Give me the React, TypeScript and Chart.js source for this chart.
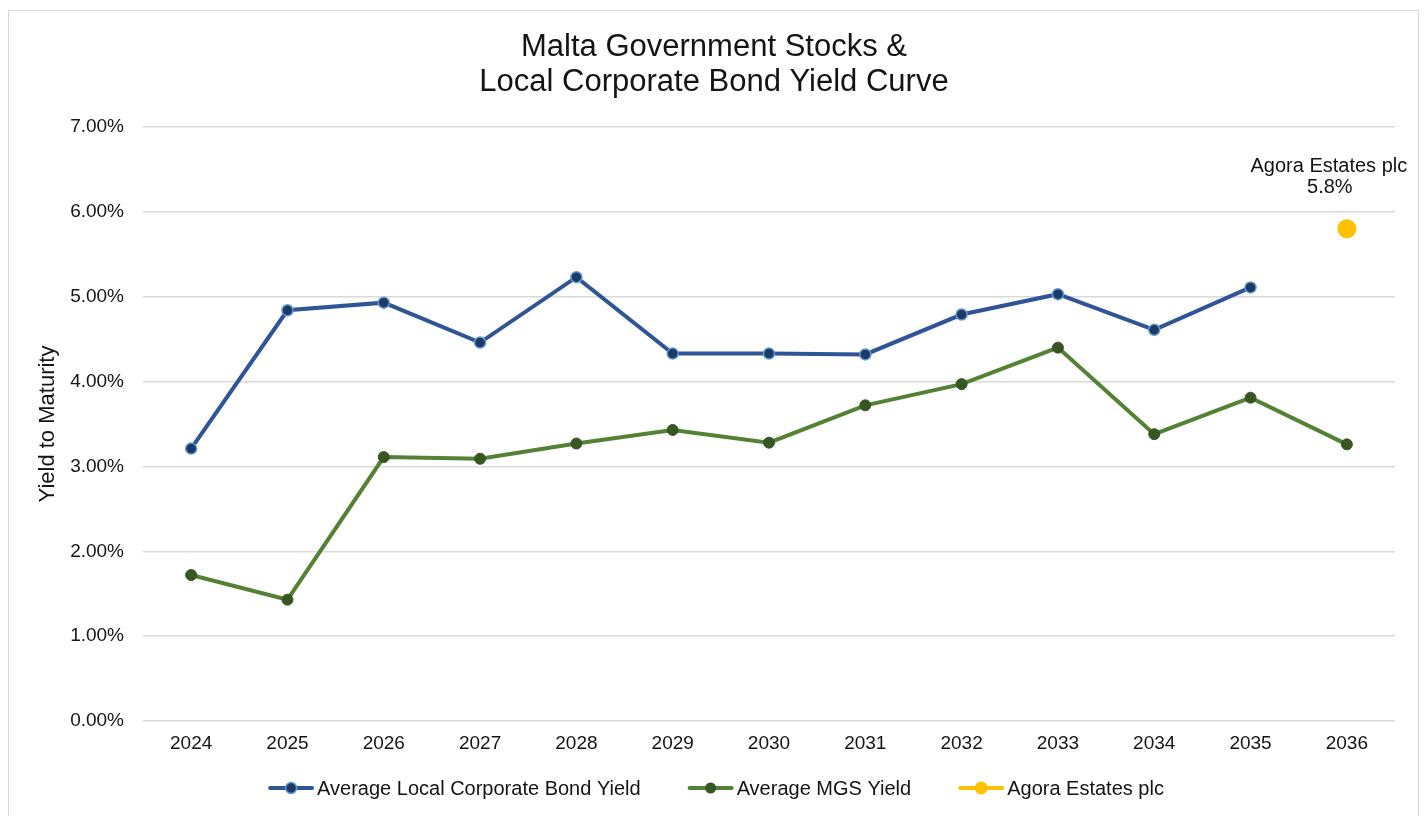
import React, { useEffect, useRef } from "react";
import { Chart, registerables } from "chart.js";

Chart.register(...registerables);

const years = ["2024", "2025", "2026", "2027", "2028", "2029", "2030", "2031", "2032", "2033", "2034", "2035", "2036"];
const corporateYield: (number | null)[] = [3.21, 4.84, 4.93, 4.46, 5.23, 4.33, 4.33, 4.32, 4.79, 5.03, 4.61, 5.11, null];
const mgsYield: (number | null)[] = [1.72, 1.43, 3.11, 3.09, 3.27, 3.43, 3.28, 3.72, 3.97, 4.4, 3.38, 3.81, 3.26];
const agoraYield: (number | null)[] = [null, null, null, null, null, null, null, null, null, null, null, null, 5.8];

const seriesNames = ["Average Local Corporate Bond Yield", "Average MGS Yield", "Agora Estates plc"];
const titleLines = ["Malta Government Stocks &", "Local Corporate Bond Yield Curve"];
const yAxisTitle = "Yield to Maturity";
const agoraLabel = ["Agora Estates plc", "5.8%"];
const yMin = 0;
const yMax = 7;
const yStep = 1;

const FONT = "'Liberation Sans', Arial, sans-serif";
const TEXT = "#141414";

const overlayPlugin = {
  id: "overlay",
  afterDraw(chart: any) {
    const ctx = chart.ctx as CanvasRenderingContext2D;
    const area = chart.chartArea;
    ctx.save();
    // Title
    ctx.fillStyle = TEXT;
    ctx.font = `31px ${FONT}`;
    ctx.textAlign = "center";
    ctx.textBaseline = "alphabetic";
    const cx = 714;
    ctx.fillText(titleLines[0], cx, 56);
    ctx.fillText(titleLines[1], cx, 91);

    // Y axis title
    ctx.save();
    ctx.font = `22px ${FONT}`;
    ctx.translate(48, (area.top + area.bottom) / 2);
    ctx.rotate(-Math.PI / 2);
    ctx.textAlign = "center";
    ctx.textBaseline = "middle";
    ctx.fillText(yAxisTitle, 0, 0);
    ctx.restore();

    // Agora annotation
    const meta = chart.getDatasetMeta(2);
    const pt = meta.data[meta.data.length - 1];
    if (pt) {
      ctx.font = `20px ${FONT}`;
      ctx.textAlign = "center";
      ctx.textBaseline = "alphabetic";
      ctx.fillText(agoraLabel[0], pt.x - 18, pt.y - 57);
      ctx.fillText(agoraLabel[1], pt.x - 17, pt.y - 36);
    }

    // Legend
    ctx.font = `20px ${FONT}`;
    const lineLen = 46;
    const gapText = 3;
    const gapItems = 47;
    const widths = chart.data.datasets.map((d: any) => ctx.measureText(d.label).width);
    const total = widths.reduce((a: number, w: number) => a + lineLen + gapText + w, 0) + gapItems * (widths.length - 1);
    let x = 716 - total / 2;
    const y = 788;
    chart.data.datasets.forEach((d: any, i: number) => {
      const lc = d.legendLine;
      ctx.strokeStyle = lc;
      ctx.lineWidth = 4;
      ctx.lineCap = "round";
      ctx.beginPath();
      ctx.moveTo(x + 2, y);
      ctx.lineTo(x + lineLen - 2, y);
      ctx.stroke();
      ctx.beginPath();
      ctx.arc(x + lineLen / 2, y, d.legendRadius, 0, Math.PI * 2);
      ctx.fillStyle = d.pointBackgroundColor;
      ctx.fill();
      if (d.legendBorder) {
        ctx.lineWidth = 1.5;
        ctx.strokeStyle = d.legendBorder;
        ctx.stroke();
      }
      ctx.fillStyle = TEXT;
      ctx.textAlign = "left";
      ctx.textBaseline = "middle";
      ctx.fillText(d.label, x + lineLen + gapText, y + 1);
      x += lineLen + gapText + widths[i] + gapItems;
    });
    ctx.restore();
  },
};

export default function App() {
  const canvasRef = useRef<HTMLCanvasElement | null>(null);

  useEffect(() => {
    if (!canvasRef.current) return;
    const chart = new Chart(canvasRef.current, {
      type: "line",
      data: {
        labels: years,
        datasets: [
          {
            label: seriesNames[0],
            data: corporateYield,
            borderColor: "#2F5597",
            borderWidth: 4,
            pointRadius: 5.5,
            pointBackgroundColor: "#203864",
            pointBorderColor: "#5B9BD5",
            pointBorderWidth: 1.5,
            pointHoverRadius: 5.5,
            tension: 0,
            spanGaps: false,
            legendLine: "#2F5597",
            legendRadius: 5.5,
            legendBorder: "#5B9BD5",
          } as any,
          {
            label: seriesNames[1],
            data: mgsYield,
            borderColor: "#548235",
            borderWidth: 4,
            pointRadius: 5.5,
            pointBackgroundColor: "#375623",
            pointBorderColor: "#375623",
            pointBorderWidth: 1,
            pointHoverRadius: 5.5,
            tension: 0,
            legendLine: "#548235",
            legendRadius: 5.5,
            legendBorder: null,
          } as any,
          {
            label: seriesNames[2],
            data: agoraYield,
            borderColor: "#FFC000",
            showLine: false,
            pointRadius: 9.5,
            pointBackgroundColor: "#FFC000",
            pointBorderColor: "#FFC000",
            pointBorderWidth: 0,
            pointHoverRadius: 9.5,
            legendLine: "#FFC000",
            legendRadius: 6.5,
            legendBorder: null,
          } as any,
        ],
      },
      options: {
        responsive: false,
        animation: false,
        events: [],
        layout: { padding: { left: 0, right: 30, top: 127, bottom: 65 } },
        plugins: {
          legend: { display: false },
          title: { display: false },
          tooltip: { enabled: false },
        },
        scales: {
          x: {
            offset: true,
            grid: { display: false, drawTicks: false },
            border: { display: false },
            ticks: { color: TEXT, font: { family: FONT, size: 19 }, padding: 11, maxRotation: 0 },
            afterFit: (s: any) => {
              s.height = 30;
            },
          },
          y: {
            min: yMin,
            max: yMax,
            grid: { color: "#D9D9D9", lineWidth: 1.5, drawTicks: false },
            border: { display: false },
            ticks: {
              stepSize: yStep,
              color: TEXT,
              font: { family: FONT, size: 19 },
              padding: 19,
              callback: (v: any) => Number(v).toFixed(2) + "%",
            },
            afterFit: (s: any) => {
              s.width = 143;
            },
          },
        },
      },
      plugins: [overlayPlugin],
    });
    return () => chart.destroy();
  }, []);

  return (
    <div style={{ position: "fixed", left: 0, top: 0, width: 1425, height: 816, overflow: "hidden", background: "#fff" }}>
      <div
        style={{
          position: "absolute",
          left: 8,
          top: 10,
          width: 1411,
          height: 830,
          border: "1.5px solid #D9D9D9",
          boxSizing: "border-box",
        }}
      />
      <canvas
        ref={canvasRef}
        width={1425}
        height={816}
        style={{ position: "absolute", left: 0, top: 0, width: 1425, height: 816 }}
      />
    </div>
  );
}
